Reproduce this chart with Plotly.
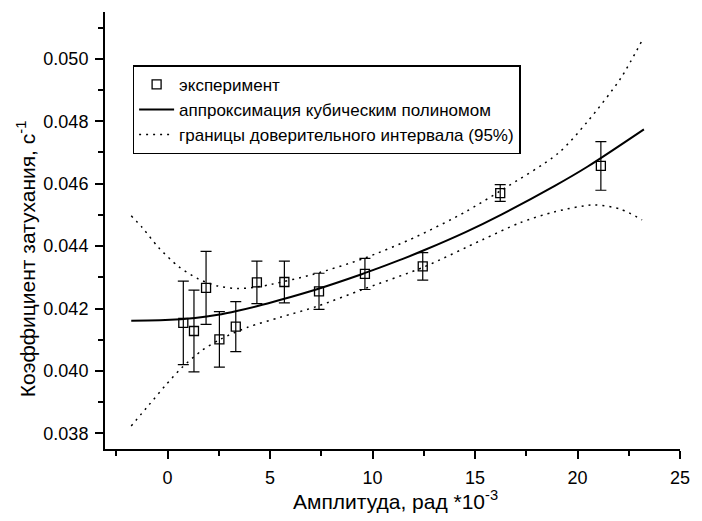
import plotly.graph_objects as go

# Experimental points
amp_exp = [0.77, 1.29, 1.88, 2.53, 3.33, 4.36, 5.70, 7.39, 9.63, 12.45, 16.23, 21.14]
damp_exp = [0.04154, 0.04128, 0.04266, 0.04101, 0.04142, 0.04284, 0.04285, 0.04255,
            0.04311, 0.04335, 0.04570, 0.04657]
damp_err = [0.00134, 0.00131, 0.00117, 0.00089, 0.00080, 0.00068, 0.00067, 0.00058,
            0.00050, 0.00044, 0.00027, 0.00078]

# Cubic polynomial fit
fit_x = [-1.77, -0.11, 1.34, 2.46, 3.43, 4.40, 5.52, 7.29, 9.47, 10.35, 11.48, 12.45,
         14.54, 16.31, 18.89, 20.50, 23.24]
fit_y = [0.04161, 0.04163, 0.04170, 0.04180, 0.04193, 0.04208, 0.04228, 0.04262, 0.04310,
         0.04331, 0.04359, 0.04385, 0.04445, 0.04502, 0.04593, 0.04655, 0.04774]

# 95% confidence bounds
up_x = [-1.77, -1.24, -0.43, 0.53, 1.50, 2.46, 3.43, 4.24, 4.88, 7.13, 9.55, 12.13,
        14.54, 16.31, 19.05, 20.50, 22.11, 23.15]
up_y = [0.04497, 0.04460, 0.04395, 0.04335, 0.04295, 0.04272, 0.04264, 0.04268, 0.04275,
        0.04310, 0.04360, 0.04430, 0.04510, 0.04580, 0.04697, 0.04800, 0.04938, 0.05059]
lo_x = [-1.77, -0.92, -0.11, 0.69, 1.66, 2.62, 3.91, 5.50, 7.29, 9.55, 12.50, 15.35,
        17.20, 18.89, 20.82, 22.11, 23.15]
lo_y = [0.03824, 0.03890, 0.03953, 0.04010, 0.04065, 0.04103, 0.04140, 0.04172, 0.04207,
        0.04262, 0.04333, 0.04420, 0.04475, 0.04510, 0.04532, 0.04518, 0.04484]

x_ticks = [0, 5, 10, 15, 20, 25]
y_ticks = [0.038, 0.040, 0.042, 0.044, 0.046, 0.048, 0.050]

FONT = "Liberation Sans, Arial, sans-serif"
DOT = "2px,5px"

fig = go.Figure()
fig.add_trace(go.Scatter(
    x=amp_exp, y=damp_exp, mode="markers", name="эксперимент",
    marker=dict(symbol="square-open", size=9, color="black", line=dict(width=1.3, color="black")),
    error_y=dict(type="data", array=damp_err, color="black", thickness=1.2, width=5.5),
))
fig.add_trace(go.Scatter(
    x=fit_x, y=fit_y, mode="lines", name="аппроксимация кубическим полиномом",
    line=dict(color="black", width=2, shape="spline", smoothing=0.8),
))
fig.add_trace(go.Scatter(
    x=up_x, y=up_y, mode="lines", name="границы доверительного интервала (95%)",
    line=dict(color="black", width=1.5, dash=DOT, shape="spline", smoothing=0.8),
))
fig.add_trace(go.Scatter(
    x=lo_x, y=lo_y, mode="lines", showlegend=False,
    line=dict(color="black", width=1.5, dash=DOT, shape="spline", smoothing=0.8),
))

axis_common = dict(
    showline=True, linecolor="black", linewidth=2, ticks="outside", ticklen=8,
    tickwidth=2, tickcolor="black", showgrid=False, zeroline=False, mirror=False,
    tickfont=dict(family=FONT, size=18, color="black"), ticklabelstandoff=3,
)
fig.update_xaxes(range=[-3.05, 25.0], tickvals=x_ticks, ticktext=[str(v) for v in x_ticks],
                 minor=dict(dtick=2.5, tick0=0, ticks="outside", ticklen=5, tickwidth=1.5,
                            tickcolor="black"),
                 **axis_common)
fig.update_yaxes(range=[0.0375, 0.0515], tickvals=y_ticks,
                 ticktext=[f"{v:.3f}" for v in y_ticks],
                 minor=dict(dtick=0.001, tick0=0.037, ticks="outside", ticklen=5, tickwidth=1.5,
                            tickcolor="black"),
                 **axis_common)

fig.update_layout(
    width=702, height=521,
    margin=dict(l=105, r=13.5, t=12, b=71.5),
    paper_bgcolor="white", plot_bgcolor="white",
    font=dict(family=FONT, color="black"),
    showlegend=True,
    legend=dict(x=0.048, y=0.878, xanchor="left", yanchor="top",
                bordercolor="black", borderwidth=1.5, bgcolor="white",
                font=dict(family=FONT, size=17, color="black"),
                itemwidth=35, tracegroupgap=0),
    annotations=[
        dict(text="Амплитуда, рад *10<sup>-3</sup>", xref="paper", yref="paper",
             x=0.5056, y=-0.116, xanchor="center", yanchor="middle", showarrow=False,
             font=dict(family=FONT, size=21, color="black")),
        dict(text="Коэффициент затухания, с<sup>-1</sup>", xref="paper", yref="paper",
             x=-0.137, y=0.435, xanchor="center", yanchor="middle", showarrow=False,
             textangle=-90, font=dict(family=FONT, size=21, color="black")),
    ],
)

fig.write_html("out.html", config={"displayModeBar": False},
               post_script="document.body.style.margin='0';document.body.style.overflow='hidden';")
